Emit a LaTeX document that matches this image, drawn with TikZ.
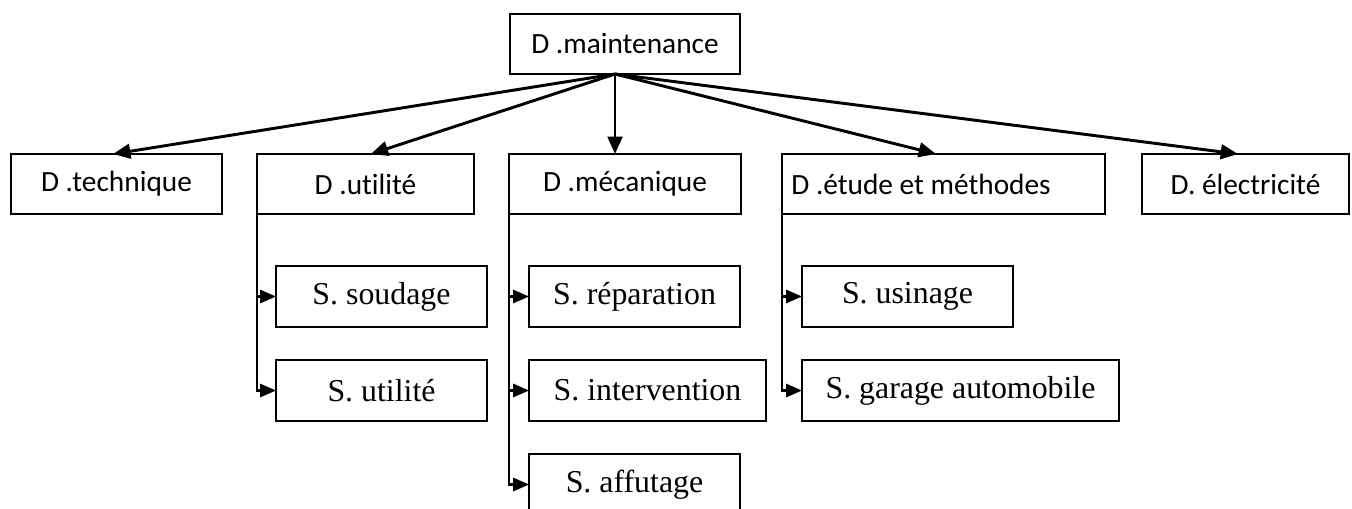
\documentclass[tikz,border=0pt]{standalone}
\usepackage{fontspec}
\setmainfont{Liberation Serif}
\newfontfamily\calibri[Ligatures=NoCommon]{Carlito}
\usetikzlibrary{arrows.meta,positioning}
\tikzset{
  deptbox/.style={
    draw,
    rectangle,
    line width=1.5pt,
    minimum height=45pt,
    inner sep=7pt,
    outer sep=0pt,
    align=center,
    font=\calibri\fontsize{22}{26}\selectfont
  },
  servbox/.style={
    draw,
    rectangle,
    line width=1.3pt,
    minimum width=158.25pt,
    minimum height=45.75pt,
    inner sep=7pt,
    outer sep=0pt,
    align=center,
    font=\fontsize{23.9}{27}\selectfont
  },
  flow/.style={-{Triangle[length=13pt,width=11pt]},line width=2.2pt},
  subflow/.style={-{Triangle[length=12pt,width=10pt]},line width=1.6pt}
}

\begin{document}
\begin{tikzpicture}

\clip (0,0) rectangle (1014pt,-381pt);

\node[deptbox, minimum width=172.5pt] (maintenance) at (468.75pt,-33pt) {D .maintenance};

% directions
\node[deptbox, minimum width=174pt, below=60pt of maintenance] (mecanique) {D .mécanique};
\node[deptbox, minimum width=162.75pt, left=26.25pt of mecanique] (utilite) {D .utilité};
\node[deptbox, minimum width=158.25pt, left=26.25pt of utilite] (technique) {D .technique};
\node[deptbox, minimum width=242.25pt, text width=228.25pt, align=flush left,
  right=30.75pt of mecanique] (etude) {D .étude et méthodes};
\node[deptbox, minimum width=155.25pt, right=27.75pt of etude] (electricite) {D. électricité};

% services
\node[servbox, below right=39pt and 14.25pt of utilite.south west] (soudage) {S. soudage};
\node[servbox, below right=24.75pt and 0pt of soudage.south west] (sutilite) {S. utilité};

\node[servbox, below right=39pt and 15pt of mecanique.south west] (reparation) {S. réparation};
\node[servbox, minimum width=177.75pt,
  below right=24.75pt and 0pt of reparation.south west] (intervention) {S. intervention};
\node[servbox, below right=24.75pt and 0pt of intervention.south west] (affutage) {S. affutage};

\node[servbox, below right=39pt and 15pt of etude.south west] (usinage) {S. usinage};
\node[servbox, minimum width=237.75pt,
  below right=24.75pt and 0pt of usinage.south west] (garage) {S. garage automobile};

% maintenance - directions
\coordinate (hub) at ([xshift=-7.5pt]maintenance.south);
\draw[flow] (hub) -- ([xshift=-2.6pt]technique.north);
\draw[flow] (hub) -- ([xshift=4pt]utilite.north);
\draw[flow] (hub) -- (hub |- mecanique.north);
\draw[flow] (hub) -- ([xshift=-5.6pt]etude.north);
\draw[flow] (hub) -- ([xshift=-5.6pt]electricite.north);

% directions - services
\draw[subflow] (utilite.south west) |- (soudage.west);
\draw[subflow] (utilite.south west) |- (sutilite.west);

\draw[subflow] (mecanique.south west) |- (reparation.west);
\draw[subflow] (mecanique.south west) |- (intervention.west);
\draw[subflow] (mecanique.south west) |- (affutage.west);

\draw[subflow] (etude.south west) |- (usinage.west);
\draw[subflow] (etude.south west) |- (garage.west);

\end{tikzpicture}
\end{document}
